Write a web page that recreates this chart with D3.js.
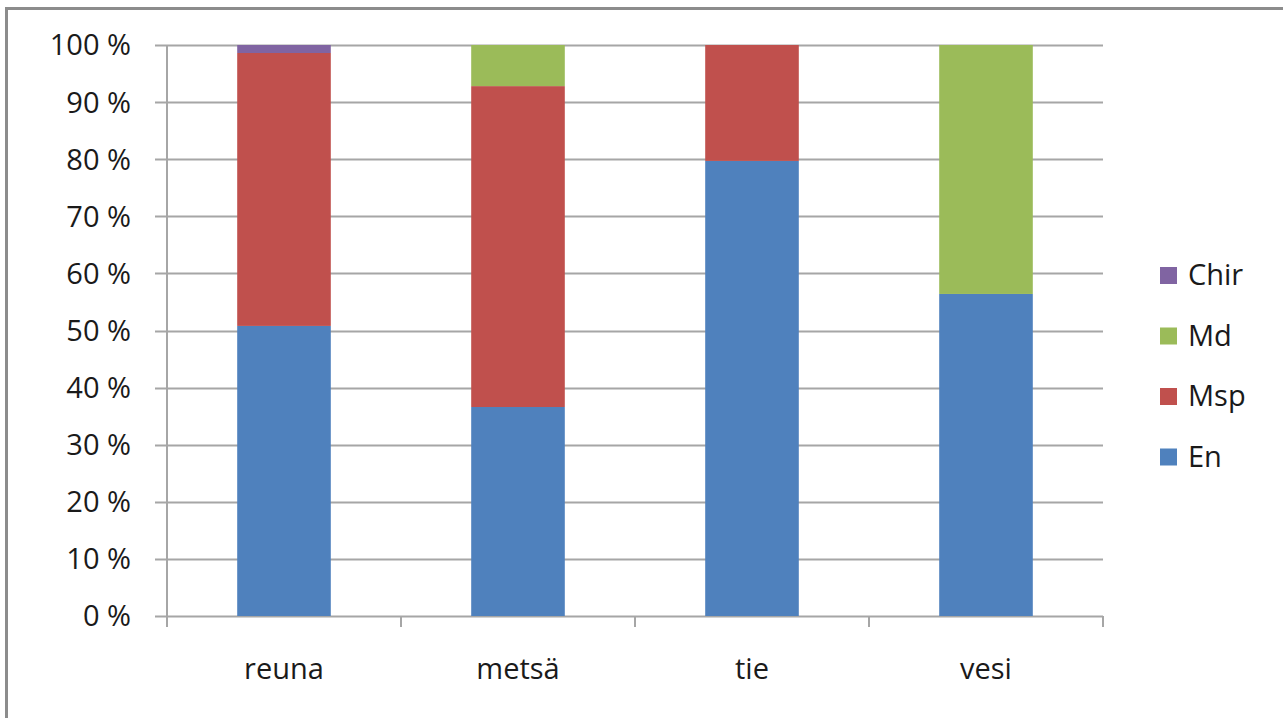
<!DOCTYPE html>
<html>
<head>
<meta charset="utf-8">
<script src="https://cdn.jsdelivr.net/npm/d3@7"></script>
<style>
  body { margin: 0; background: #fff; }
  svg { display: block; font-family: 'Open Sans', sans-serif; }
</style>
</head>
<body>
<div id="chart"></div>
<script>
const categories = ['reuna', 'metsä', 'tie', 'vesi']
const seriesNames = ['En', 'Msp', 'Md', 'Chir']
const seriesColors = ['#4f81bd', '#c0504d', '#9bbb59', '#8064a2']
const enValues = [50.8, 36.6, 79.7, 56.4]
const mspValues = [47.8, 56.2, 20.3, 0]
const mdValues = [0, 7.2, 0, 43.6]
const chirValues = [1.4, 0, 0, 0]
const yTicks = [0, 10, 20, 30, 40, 50, 60, 70, 80, 90, 100]

function stackedChart () {
  const width = 1283
  const height = 718
  const margin = { top: 45, left: 167, right: 180, bottom: 102 }
  const fontSize = '29px'

  const rows = categories.map((c, i) => ({
    cat: c,
    En: enValues[i],
    Msp: mspValues[i],
    Md: mdValues[i],
    Chir: chirValues[i]
  }))

  const svg = d3.select('#chart')
    .append('svg')
    .attr('width', width)
    .attr('height', height)

  // outer frame (only left and top edges show)
  svg.append('rect')
    .attr('x', 6.5)
    .attr('y', 8.5)
    .attr('width', width + 10)
    .attr('height', height + 10)
    .attr('fill', 'none')
    .attr('stroke', '#8c8c8c')
    .attr('stroke-width', 3)

  const x = d3.scaleBand()
    .domain(categories)
    .range([margin.left, width - margin.right])
    .paddingInner(0.6)
    .paddingOuter(0.3)
  const x0 = d3.scaleBand()
    .domain(categories)
    .range([margin.left, width - margin.right])

  const y = d3.scaleLinear()
    .domain([0, 100])
    .range([height - margin.bottom, margin.top])

  // gridlines
  svg.append('g')
    .selectAll('line')
    .data(yTicks)
    .enter()
    .append('line')
    .attr('x1', margin.left - 12)
    .attr('x2', width - margin.right)
    .attr('y1', d => Math.round(y(d)) + 0.5)
    .attr('y2', d => Math.round(y(d)) + 0.5)
    .attr('stroke', '#a6a6a6')
    .attr('stroke-width', 2)

  svg.append('line')
    .attr('x1', margin.left)
    .attr('x2', margin.left)
    .attr('y1', y(100))
    .attr('y2', y(0) + 1)
    .attr('stroke', '#a6a6a6')
    .attr('stroke-width', 2)

  svg.append('g')
    .selectAll('text')
    .data(yTicks)
    .enter()
    .append('text')
    .attr('x', margin.left - 36)
    .attr('y', d => y(d))
    .attr('dy', '0.36em')
    .attr('text-anchor', 'end')
    .attr('font-size', fontSize)
    .attr('fill', '#1a1a1a')
    .text(d => `${d} %`)

  // x axis category boundaries
  const bounds = categories.map(c => x0(c)).concat([x0(categories[categories.length - 1]) + x0.bandwidth()])
  svg.append('g')
    .selectAll('line')
    .data(bounds)
    .enter()
    .append('line')
    .attr('x1', d => d)
    .attr('x2', d => d)
    .attr('y1', y(0))
    .attr('y2', y(0) + 11)
    .attr('stroke', '#a6a6a6')
    .attr('stroke-width', 2)

  svg.append('g')
    .selectAll('text')
    .data(categories)
    .enter()
    .append('text')
    .attr('x', d => x0(d) + x0.bandwidth() / 2)
    .attr('y', y(0) + 63)
    .attr('text-anchor', 'middle')
    .attr('font-size', fontSize)
    .attr('fill', '#1a1a1a')
    .text(d => d)

  // stacked bars
  const layers = d3.stack().keys(seriesNames)(rows)
  svg.append('g')
    .selectAll('g')
    .data(layers)
    .enter()
    .append('g')
    .attr('fill', (d, i) => seriesColors[i])
    .selectAll('rect')
    .data(d => d)
    .enter()
    .append('rect')
    .attr('x', d => x(d.data.cat))
    .attr('width', x.bandwidth())
    .attr('y', d => y(d[1]))
    .attr('height', d => y(d[0]) - y(d[1]))

  // legend, top series first
  const legendItems = seriesNames.map((n, i) => ({ name: n, color: seriesColors[i] })).reverse()
  const legend = svg.append('g')
    .attr('transform', 'translate(1160, 275)')
    .selectAll('g')
    .data(legendItems)
    .enter()
    .append('g')
    .attr('transform', (d, i) => `translate(0, ${i * 60.5})`)
  legend.append('rect')
    .attr('x', 0)
    .attr('y', -8)
    .attr('width', 17)
    .attr('height', 17)
    .attr('fill', d => d.color)
  legend.append('text')
    .attr('x', 28)
    .attr('y', 0)
    .attr('dy', '0.36em')
    .attr('font-size', fontSize)
    .attr('fill', '#1a1a1a')
    .text(d => d.name)
}

stackedChart()
</script>
</body>
</html>
